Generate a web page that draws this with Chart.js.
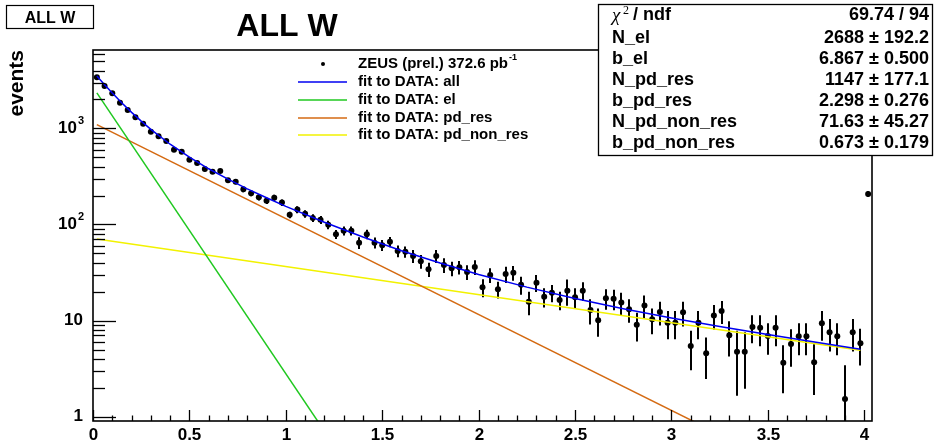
<!DOCTYPE html>
<html>
<head>
<meta charset="utf-8">
<script src="https://cdn.jsdelivr.net/npm/chart.js@4.4.0/dist/chart.umd.min.js"></script>
<style>
  body { margin: 0; background: #fff; }
  canvas { display: block; }
</style>
</head>
<body>
<canvas id="c" width="947" height="442"></canvas>
<script>
// histogram: 101 bins of 0.04 starting at 0, last bin is the overflow-like spike
const binStart = 0;
const binWidth = 0.04;
const counts = [
  3404, 2762, 2318, 1851, 1553, 1304, 1119, 924, 828, 739,
  600, 572, 472, 436, 378, 354, 360, 288, 279, 232,
  211, 192, 177, 190, 169, 126, 143, 129, 117, 112,
  99.5, 79.1, 86, 86, 64.7, 79.1, 64.7, 61, 66, 53,
  52.1, 47, 41.4, 34.2, 47, 37.9, 35, 35.9, 32, 36.1,
  22.2, 29.8, 21.2, 30.5, 31.5, 23.6, 15.7, 24.8, 17.7, 19.5,
  16.4, 20.5, 17.5, 20.5, 12.9, 10.1, 17.1, 16.9, 15.4, 13.1,
  9.06, 14.4, 10.3, 12.3, 9.51, 9.51, 12.2, 5.44, 9.51, 4.57,
  11.3, 12.6, 7.03, 4.75, 4.75, 8.6, 8.4, 6.9, 8.4, 3.65,
  5.71, 6.87, 6.87, 3.68, 9.37, 7.56, 6.87, 1.53, 7.56, 5.81,
  208
];
const errors = [
  58, 53, 48, 43, 39, 36, 33, 30, 29, 27,
  24.5, 24, 22, 21, 19.5, 19, 19, 17, 16.7, 15.2,
  14.5, 13.9, 13.3, 13.8, 13, 10, 12, 11.4, 10.8, 10.6,
  10, 8.5, 9.3, 9.3, 9, 9, 8.5, 8, 8, 7.5,
  7, 7.3, 6.8, 5.8, 7.3, 6.6, 6, 5.8, 5.6, 6.3,
  4.7, 5.2, 4.2, 5.9, 5.5, 5, 4.3, 5, 4, 4,
  3.6, 6.2, 4.2, 4.5, 3.8, 3.3, 4.1, 4.1, 4.1, 3.6,
  3, 3.8, 3.1, 3.4, 3.1, 3.1, 3.5, 2.4, 3.1, 2.1,
  3.2, 3.4, 2.8, 3.1, 2.8, 2.8, 3, 2.5, 3, 1.9,
  2.4, 2.5, 2.5, 2, 3.2, 2.8, 2.5, 1.9, 2.8, 2.4,
  14
];

// fit components from the stats box, tabulated
const fitX   = [0.02, 0.06, 0.1, 0.15, 0.2, 0.25, 0.3, 0.4, 0.5, 0.6, 0.7, 0.8, 0.9, 1.0,
                1.2, 1.4, 1.6, 1.8, 2.0, 2.25, 2.5, 2.75, 3.0, 3.25, 3.5, 3.75, 3.98];
const fitAll = [3509, 2848, 2331, 1837, 1468, 1189, 977, 684, 502, 380, 296, 235, 190, 154.5,
                105.4, 74.0, 53.4, 39.7, 30.2, 22.3, 17.0, 13.3, 10.67, 8.69, 7.16, 5.95, 5.04];
const elX = [0.02, 1.2];
const elY = [2343, 0.709];
const resX = [0.02, 3.2];
const resY = [1095, 0.734];
const nonResX = [0.02, 3.98];
const nonResY = [70.7, 4.92];

const stats = [
  ['N_el', '2688 \u00b1 192.2'],
  ['b_el', '6.867 \u00b1 0.500'],
  ['N_pd_res', '1147 \u00b1 177.1'],
  ['b_pd_res', '2.298 \u00b1 0.276'],
  ['N_pd_non_res', '71.63 \u00b1 45.27'],
  ['b_pd_non_res', '0.673 \u00b1 0.179']
];
const chiNdf = '69.74 / 94';

const colAll = '#0000f0';
const colEl = '#20c820';
const colRes = '#d46a12';
const colNon = '#f2f200';

const FONT = '"Liberation Sans", Arial, sans-serif';

const points = counts.map((v, i) => ({ x: binStart + binWidth * (i + 0.5), y: v }));
const xy = (xs, ys) => xs.map((x, i) => ({ x: x, y: ys[i] }));

function lineSet(label, xs, ys, color) {
  return {
    label: label,
    data: xy(xs, ys),
    showLine: true,
    borderColor: color,
    borderWidth: 1.5,
    pointRadius: 0,
    tension: 0
  };
}

// superscript helper: base text then a small raised exponent
function drawSup(ctx, base, sup, x, y, size, align) {
  ctx.font = 'bold ' + size + 'px ' + FONT;
  const wb = ctx.measureText(base).width;
  ctx.font = 'bold ' + Math.round(size * 0.62) + 'px ' + FONT;
  const ws = sup ? ctx.measureText(sup).width : 0;
  let x0 = x;
  if (align === 'right') x0 = x - wb - ws - 1;
  ctx.textAlign = 'left';
  ctx.textBaseline = 'middle';
  ctx.font = 'bold ' + size + 'px ' + FONT;
  ctx.fillText(base, x0, y);
  if (sup) {
    ctx.font = 'bold ' + Math.round(size * 0.62) + 'px ' + FONT;
    ctx.fillText(sup, x0 + wb + 1, y - size * 0.42);
  }
}

const rootStyle = {
  id: 'rootStyle',
  beforeDatasetsDraw(chart) {
    // vertical error bars
    const ctx = chart.ctx, xs = chart.scales.x, ys = chart.scales.y, a = chart.chartArea;
    ctx.save();
    ctx.beginPath();
    ctx.rect(a.left, a.top, a.right - a.left, a.bottom - a.top);
    ctx.clip();
    ctx.strokeStyle = '#000';
    ctx.lineWidth = 2;
    points.forEach((p, i) => {
      const px = Math.round(xs.getPixelForValue(p.x));
      const lo = Math.max(p.y - errors[i], 0.01);
      ctx.beginPath();
      ctx.moveTo(px, ys.getPixelForValue(p.y + errors[i]));
      ctx.lineTo(px, ys.getPixelForValue(lo));
      ctx.stroke();
    });
    ctx.restore();
  },
  afterDraw(chart) {
    const ctx = chart.ctx, xs = chart.scales.x, ys = chart.scales.y, a = chart.chartArea;
    ctx.save();
    ctx.fillStyle = '#000';
    ctx.strokeStyle = '#000';

    // frame
    ctx.lineWidth = 1.6;
    ctx.strokeRect(a.left, a.top, a.right - a.left, a.bottom - a.top);

    // x ticks, drawn inward from the bottom edge
    ctx.lineWidth = 1.3;
    for (let i = 0; i <= 40; i++) {
      const px = Math.round(xs.getPixelForValue(i / 10)) + 0.5;
      const len = i % 5 === 0 ? 11 : 5.5;
      ctx.beginPath();
      ctx.moveTo(px, a.bottom);
      ctx.lineTo(px, a.bottom - len);
      ctx.stroke();
      if (i % 5 === 0) {
        ctx.font = 'bold 17px ' + FONT;
        ctx.textAlign = 'center';
        ctx.textBaseline = 'alphabetic';
        ctx.fillText(String(i / 10), px, 440);
      }
    }

    // y ticks, log decades with 2..9 minors
    for (let d = 0; d <= 3; d++) {
      for (let m = 1; m <= 9; m++) {
        const v = m * Math.pow(10, d);
        if (v < ys.min || v > ys.max) continue;
        const py = Math.round(ys.getPixelForValue(v)) + 0.5;
        const len = m === 1 ? 23 : 12;
        ctx.beginPath();
        ctx.moveTo(a.left, py);
        ctx.lineTo(a.left + len, py);
        ctx.stroke();
      }
      const py = ys.getPixelForValue(Math.pow(10, d));
      if (d === 0) drawSup(ctx, '1', '', 84, py, 17, 'right');
      else if (d === 1) drawSup(ctx, '10', '', 84, py, 17, 'right');
      else drawSup(ctx, '10', String(d), 84, py, 17, 'right');
    }

    // y axis title
    ctx.save();
    ctx.translate(23, a.top);
    ctx.rotate(-Math.PI / 2);
    ctx.font = 'bold 21px ' + FONT;
    ctx.textAlign = 'right';
    ctx.textBaseline = 'alphabetic';
    ctx.fillText('events', 0, 0);
    ctx.restore();

    // title and the small label box
    ctx.font = 'bold 32px ' + FONT;
    ctx.textAlign = 'center';
    ctx.textBaseline = 'alphabetic';
    ctx.fillText('ALL W', 287, 36);
    ctx.lineWidth = 1.2;
    ctx.strokeRect(6.5, 5.5, 87, 23);
    ctx.font = 'bold 16px ' + FONT;
    ctx.fillText('ALL W', 50, 23);

    // legend
    const rows = [64, 82, 100, 118, 135];
    ctx.beginPath();
    ctx.arc(323, rows[0], 2, 0, Math.PI * 2);
    ctx.fill();
    drawSup(ctx, 'ZEUS (prel.) 372.6 pb', '-1', 358, rows[0], 15, 'left');
    const entries = [[colAll, 'fit to DATA: all'], [colEl, 'fit to DATA: el'],
                     [colRes, 'fit to DATA: pd_res'], [colNon, 'fit to DATA: pd_non_res']];
    entries.forEach((e, i) => {
      ctx.strokeStyle = e[0];
      ctx.lineWidth = 1.5;
      ctx.beginPath();
      ctx.moveTo(298, rows[i + 1]);
      ctx.lineTo(347, rows[i + 1]);
      ctx.stroke();
      ctx.fillStyle = '#000';
      drawSup(ctx, e[1], '', 358, rows[i + 1], 15, 'left');
    });

    // fit statistics box
    ctx.fillStyle = '#fff';
    ctx.fillRect(598, 4, 335, 152);
    ctx.strokeStyle = '#000';
    ctx.lineWidth = 1.3;
    ctx.strokeRect(598.5, 4.5, 334, 151);
    ctx.fillStyle = '#000';
    const sy = [15, 38, 59, 80, 101, 122, 143];
    ctx.textBaseline = 'middle';
    ctx.font = 'italic 19px "Liberation Serif", serif';
    ctx.textAlign = 'left';
    ctx.fillText('\u03c7', 612, sy[0] + 1);
    ctx.font = '12px "Liberation Serif", serif';
    ctx.fillText('2', 623, sy[0] - 4);
    ctx.font = 'bold 18px ' + FONT;
    ctx.fillText(' / ndf', 628, sy[0]);
    ctx.textAlign = 'right';
    ctx.fillText(chiNdf, 929, sy[0]);
    stats.forEach((s, i) => {
      ctx.textAlign = 'left';
      ctx.fillText(s[0], 612, sy[i + 1]);
      ctx.textAlign = 'right';
      ctx.fillText(s[1], 929, sy[i + 1]);
    });
    ctx.restore();
  }
};

new Chart(document.getElementById('c'), {
  type: 'scatter',
  data: {
    datasets: [
      lineSet('fit to DATA: all', fitX, fitAll, colAll),
      lineSet('fit to DATA: el', elX, elY, colEl),
      lineSet('fit to DATA: pd_res', resX, resY, colRes),
      lineSet('fit to DATA: pd_non_res', nonResX, nonResY, colNon),
      {
        label: 'ZEUS (prel.) 372.6 pb-1',
        data: points,
        pointRadius: 3,
        pointBackgroundColor: '#000',
        pointBorderWidth: 0,
        showLine: false
      }
    ]
  },
  options: {
    responsive: false,
    animation: false,
    devicePixelRatio: 1,
    layout: { padding: { left: 93, top: 50, right: 75, bottom: 21 } },
    scales: {
      x: { type: 'linear', min: 0, max: 4.04, display: false },
      y: { type: 'logarithmic', min: 0.902, max: 6543, display: false }
    },
    plugins: {
      legend: { display: false },
      tooltip: { enabled: false },
      title: { display: false }
    }
  },
  plugins: [rootStyle]
});
</script>
</body>
</html>
